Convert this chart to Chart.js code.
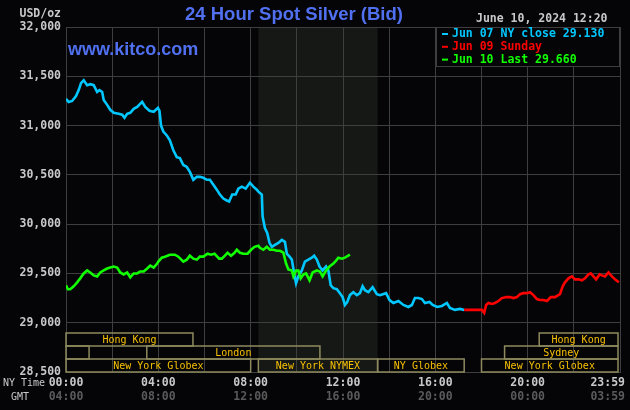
<!DOCTYPE html>
<html>
<head>
<meta charset="utf-8">
<script src="https://cdn.jsdelivr.net/npm/chart.js@4.4.1/dist/chart.umd.min.js"></script>
<style>
  html, body { margin: 0; padding: 0; background: #050508; }
  #wrap { width: 630px; height: 410px; }
</style>
</head>
<body>
<div id="wrap"><canvas id="silver" width="630" height="410"></canvas></div>
<script>
// times are minutes after midnight NY time, values are USD/oz
const jun07Times = [0,7,16,26,33,39,46,55,63,72,81,87,94,98,107,115,124,137,146,152,159,167,176,185,198,206,217,228,239,243,247,253,262,270,279,288,296,305,314,322,331,340,348,357,366,374,383,392,400,409,418,424,432,441,448,457,467,478,487,496,500,509,511,517,523,529,535,543,552,561,569,574,581,587,593,598,604,613,621,630,639,645,652,659,667,676,682,688,695,704,712,719,725,731,738,747,756,764,771,777,786,797,808,816,832,841,851,864,877,890,899,907,916,925,933,945,953,965,977,990,998,1011,1024,1035];
const jun07Values = [31.27,31.24,31.25,31.30,31.36,31.43,31.46,31.41,31.42,31.41,31.34,31.36,31.34,31.26,31.21,31.16,31.13,31.12,31.11,31.08,31.12,31.13,31.17,31.19,31.24,31.19,31.15,31.14,31.18,31.15,31.00,30.94,30.90,30.85,30.75,30.68,30.67,30.60,30.58,30.53,30.45,30.48,30.48,30.47,30.45,30.45,30.40,30.35,30.30,30.26,30.24,30.23,30.30,30.30,30.36,30.38,30.36,30.42,30.38,30.35,30.33,30.30,30.08,29.96,29.91,29.81,29.77,29.79,29.81,29.84,29.82,29.70,29.67,29.64,29.50,29.40,29.47,29.53,29.62,29.64,29.66,29.68,29.64,29.57,29.53,29.57,29.53,29.38,29.35,29.34,29.30,29.26,29.18,29.21,29.28,29.31,29.28,29.30,29.37,29.33,29.31,29.36,29.29,29.28,29.30,29.23,29.20,29.22,29.18,29.16,29.18,29.25,29.25,29.24,29.20,29.21,29.18,29.16,29.17,29.20,29.15,29.13,29.14,29.13];

const jun09Times = [1035,1081,1087,1092,1098,1107,1115,1124,1133,1144,1154,1163,1172,1180,1189,1198,1206,1215,1224,1232,1241,1250,1260,1271,1284,1291,1297,1306,1315,1323,1332,1341,1349,1358,1364,1371,1378,1387,1393,1401,1410,1419,1427,1437];
const jun09Values = [29.13,29.13,29.10,29.18,29.20,29.19,29.20,29.22,29.25,29.26,29.26,29.25,29.26,29.29,29.30,29.30,29.31,29.28,29.24,29.23,29.23,29.22,29.26,29.26,29.29,29.37,29.41,29.45,29.47,29.44,29.44,29.43,29.45,29.49,29.50,29.47,29.44,29.49,29.48,29.47,29.51,29.47,29.44,29.41];

const jun10Times = [0,5,11,20,29,37,46,55,63,72,81,89,98,107,115,124,133,141,150,159,167,176,185,193,202,211,219,228,237,240,249,257,270,283,292,305,314,322,331,340,348,357,368,377,386,398,405,413,420,429,438,444,452,461,472,481,490,500,504,513,522,530,539,548,556,565,572,578,587,591,598,604,610,617,624,633,641,652,660,667,676,685,695,702,708,717,725,738];
const jun10Values = [29.38,29.34,29.34,29.37,29.41,29.45,29.50,29.53,29.51,29.48,29.47,29.51,29.53,29.55,29.56,29.57,29.56,29.51,29.49,29.51,29.46,29.50,29.50,29.52,29.52,29.55,29.58,29.56,29.60,29.62,29.66,29.67,29.69,29.69,29.67,29.62,29.64,29.68,29.65,29.64,29.67,29.67,29.70,29.69,29.70,29.65,29.65,29.68,29.71,29.68,29.71,29.74,29.71,29.70,29.70,29.74,29.77,29.78,29.76,29.74,29.77,29.74,29.74,29.73,29.73,29.71,29.60,29.54,29.53,29.47,29.53,29.53,29.45,29.49,29.50,29.43,29.51,29.53,29.52,29.47,29.53,29.57,29.60,29.63,29.66,29.65,29.66,29.69];

const seriesLabels = ['Jun 07 NY close 29.130', 'Jun 09 Sunday', 'Jun 10 Last 29.660'];

const xTickTimes = [0, 240, 480, 720, 960, 1200, 1439];
const nyTickLabels = ['00:00', '04:00', '08:00', '12:00', '16:00', '20:00', '23:59'];
const gmtTickLabels = ['04:00', '08:00', '12:00', '16:00', '20:00', '00:00', '03:59'];

const sessionNames = ['Hong Kong', 'Hong Kong', '', 'London', 'Sydney', 'New York Globex', 'New York NYMEX', 'NY Globex', 'New York Globex'];
const sessionStarts = [0, 1230, 0, 210, 1140, 0, 500, 810, 1080];
const sessionEnds = [330, 1440, 60, 660, 1440, 480, 810, 1035, 1440];
const sessionRows = [0, 0, 1, 1, 1, 2, 2, 2, 2];

const nymexOpen = 500;
const nymexClose = 810;

const BG = '#050508';
const GRID = '#3e3e3e';
const SHADE = '#151815';
const TEXT = '#c8c8c8';
const DIM = '#5a5a5a';
const BLUE = '#5070f0';
const SESSION_LINE = '#8e8a5e';
const SESSION_TEXT = '#f7c000';
const COLORS = ['#00c8ff', '#ff0000', '#11ff00'];
const MONO = '"DejaVu Sans Mono", monospace';

function toPoints(times, values) {
  return times.map((t, i) => ({ x: t, y: values[i] }));
}

const backdrop = {
  id: 'backdrop',
  beforeDraw(chart) {
    const { ctx, chartArea: a, scales: { x } } = chart;
    ctx.save();
    ctx.fillStyle = BG;
    ctx.fillRect(0, 0, chart.width, chart.height);
    const x0 = x.getPixelForValue(nymexOpen);
    const x1 = x.getPixelForValue(nymexClose);
    ctx.fillStyle = SHADE;
    ctx.fillRect(x0, a.top, x1 - x0, a.bottom - a.top);
    ctx.restore();
  }
};

const decorations = {
  id: 'decorations',
  afterDraw(chart) {
    const { ctx, chartArea: a, scales: { x } } = chart;
    ctx.save();

    // title, site, date
    ctx.textBaseline = 'middle';
    ctx.fillStyle = BLUE;
    ctx.font = 'bold 18.5px "Liberation Sans", Arial, sans-serif';
    ctx.textAlign = 'center';
    ctx.fillText('24 Hour Spot Silver (Bid)', 294, 15);
    ctx.textAlign = 'left';
    ctx.font = 'bold 18px "Liberation Sans", Arial, sans-serif';
    ctx.fillText('www.kitco.com', 68, 50);

    ctx.font = 'bold 11.5px ' + MONO;
    ctx.fillStyle = TEXT;
    ctx.fillText('June 10, 2024 12:20', 476, 19);
    ctx.textAlign = 'right';
    ctx.fillText('USD/oz', 61, 14);

    // session boxes
    const rowH = 13;
    ctx.lineWidth = 1.5;
    ctx.font = '10px ' + MONO;
    ctx.textAlign = 'center';
    sessionNames.forEach((name, i) => {
      const top = a.bottom - rowH * (3 - sessionRows[i]);
      const x0 = x.getPixelForValue(sessionStarts[i]);
      const x1 = Math.min(x.getPixelForValue(sessionEnds[i]), a.right - 2);
      ctx.strokeStyle = SESSION_LINE;
      ctx.strokeRect(x0, top, x1 - x0, rowH);
      if (name && ctx.measureText(name).width < x1 - x0 - 4) {
        ctx.fillStyle = SESSION_TEXT;
        ctx.fillText(name, (x0 + x1) / 2, top + rowH / 2 + 0.5);
      }
    });

    // legend box
    const lx = a.right - 184;
    ctx.fillStyle = BG;
    ctx.fillRect(lx, a.top, a.right - lx, 39);
    ctx.strokeStyle = GRID;
    ctx.lineWidth = 1;
    ctx.strokeRect(lx + 0.5, a.top + 0.5, a.right - lx - 1, 39);
    ctx.font = 'bold 11.5px ' + MONO;
    ctx.textAlign = 'left';
    seriesLabels.forEach((label, i) => {
      const y = a.top + 7 + i * 12.8;
      ctx.fillStyle = COLORS[i];
      ctx.fillRect(lx + 6, y - 1, 6, 2);
      ctx.fillText(label, lx + 16, y);
    });

    // time axis labels
    ctx.font = '10px ' + MONO;
    ctx.fillStyle = TEXT;
    ctx.textAlign = 'left';
    ctx.fillText('NY Time', 3, 383);
    ctx.fillText('GMT', 11, 397);
    ctx.font = 'bold 11.5px ' + MONO;
    ctx.textAlign = 'center';
    xTickTimes.forEach((t, i) => {
      const w = ctx.measureText(nyTickLabels[i]).width;
      const px = Math.min(x.getPixelForValue(t), chart.width - 5 - w / 2);
      ctx.fillStyle = TEXT;
      ctx.fillText(nyTickLabels[i], px, 383);
      ctx.fillStyle = DIM;
      ctx.fillText(gmtTickLabels[i], px, 397);
    });
    ctx.restore();
  }
};

new Chart(document.getElementById('silver'), {
  type: 'line',
  data: {
    datasets: [
      { label: seriesLabels[0], data: toPoints(jun07Times, jun07Values), borderColor: COLORS[0], order: 3 },
      { label: seriesLabels[1], data: toPoints(jun09Times, jun09Values), borderColor: COLORS[1], order: 2 },
      { label: seriesLabels[2], data: toPoints(jun10Times, jun10Values), borderColor: COLORS[2], order: 1 }
    ]
  },
  options: {
    responsive: false,
    animation: false,
    layout: { padding: { top: 27, right: 10, left: 0, bottom: 0 } },
    elements: {
      line: { borderWidth: 2.6, tension: 0 },
      point: { radius: 0 }
    },
    scales: {
      x: {
        type: 'linear',
        min: 0,
        max: 1440,
        afterFit: (s) => { s.height = 38; },
        ticks: { stepSize: 120, display: false },
        grid: { color: GRID, drawTicks: false },
        border: { color: GRID }
      },
      y: {
        min: 28.5,
        max: 32,
        afterFit: (s) => { s.width = 66; },
        ticks: {
          stepSize: 0.5,
          padding: 5,
          color: TEXT,
          font: { family: MONO, size: 11.5, weight: 'bold' },
          callback: (v) => v.toFixed(3).replace('.', ',')
        },
        grid: { color: GRID, drawTicks: false },
        border: { color: GRID }
      }
    },
    plugins: {
      legend: { display: false },
      tooltip: { enabled: false }
    }
  },
  plugins: [backdrop, decorations]
});
</script>
</body>
</html>
